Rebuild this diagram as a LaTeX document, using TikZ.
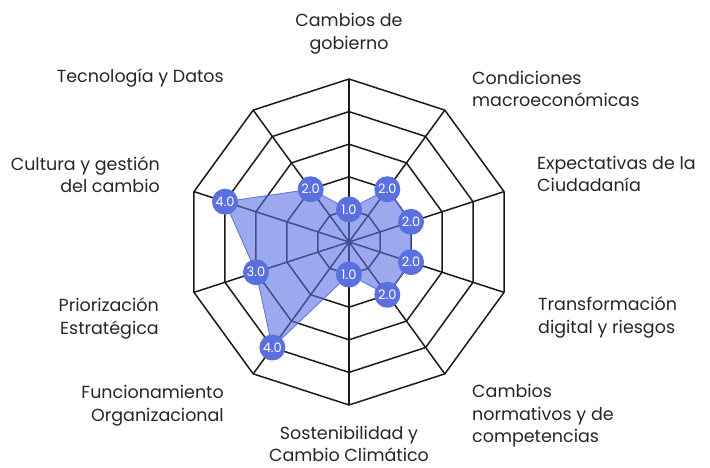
\documentclass[tikz,border=0pt]{standalone}
\usepackage{fontspec}
\setmainfont{Poppins}
\usetikzlibrary{positioning}
\definecolor{pGrid}{HTML}{1A1A1A}
\definecolor{pBlue}{HTML}{5A6FE0}
\definecolor{pText}{HTML}{262626}

\begin{document}
\begin{tikzpicture}[x=1pt, y=1pt,
    grid/.style={draw=pGrid, line width=1.5pt, line join=round},
    area/.style={fill=pBlue, fill opacity=0.6, draw=pBlue, line width=0.8pt},
    dot/.style={circle, fill=pBlue, minimum size=26pt, inner sep=0pt, text=white, font=\fontsize{13}{13}\selectfont},
    axislabel/.style={inner sep=0pt, text=pText, font=\fontsize{17.5}{22.5}\selectfont}]
    \useasboundingbox (0,0) rectangle (710,468);

    \begin{scope}[shift={(349,226)}]
      \coordinate (o) at (0,0);
      % rings
      \foreach \r in {1,...,5}
        \draw[grid] (90:{\r*32.6}) \foreach \k in {1,...,9} { -- (90-\k*36:{\r*32.6}) } -- cycle;
      % spokes
      \foreach \k in {0,...,9} {
        \coordinate (a\k) at (90-\k*36:163);
        \draw[grid] (o) -- (a\k);
      }
      % data
      \foreach \k/\v in {0/1,1/2,2/2,3/2,4/2,5/1,6/4,7/3,8/4,9/2}
        \coordinate (d\k) at (90-\k*36:{\v*32.6});
      \filldraw[area] (d0) -- (d1) -- (d2) -- (d3) -- (d4) -- (d5) -- (d6) -- (d7) -- (d8) -- (d9) -- cycle;
      \foreach \k/\v in {0/1,1/2,2/2,3/2,4/2,5/1,6/4,7/3,8/4,9/2}
        \node[dot] (m\k) at (d\k) {\v.0};
    \end{scope}

    \node[axislabel, align=center] (gob) at (349,434.5) {Cambios de\\gobierno};
    \node[axislabel, align=left, anchor=west] (mac) at (472,379) {Condiciones\\macroeconómicas};
    \node[axislabel, align=left, anchor=west] (exp) at (537,294) {Expectativas de la\\Ciudadanía};
    \node[axislabel, align=left, anchor=west] (tra) at (538,150.5) {Transformación\\digital y riesgos};
    \node[axislabel, align=left, anchor=west] (nor) at (472,52) {Cambios\\normativos y de\\competencias};
    \node[axislabel, align=center] (sos) at (349,24) {Sostenibilidad y\\Cambio Climático};
    \node[axislabel, align=right, anchor=east] (fun) at (224,62.5) {Funcionamiento\\Organizacional};
    \node[axislabel, align=right, anchor=east] (pri) at (159,149.5) {Priorización\\Estratégica};
    \node[axislabel, align=right, anchor=east] (cul) at (160,293.5) {Cultura y gestión\\del cambio};
    \node[axislabel, anchor=east] (tec) at (224,390) {Tecnología y Datos};

  \end{tikzpicture}
\end{document}
